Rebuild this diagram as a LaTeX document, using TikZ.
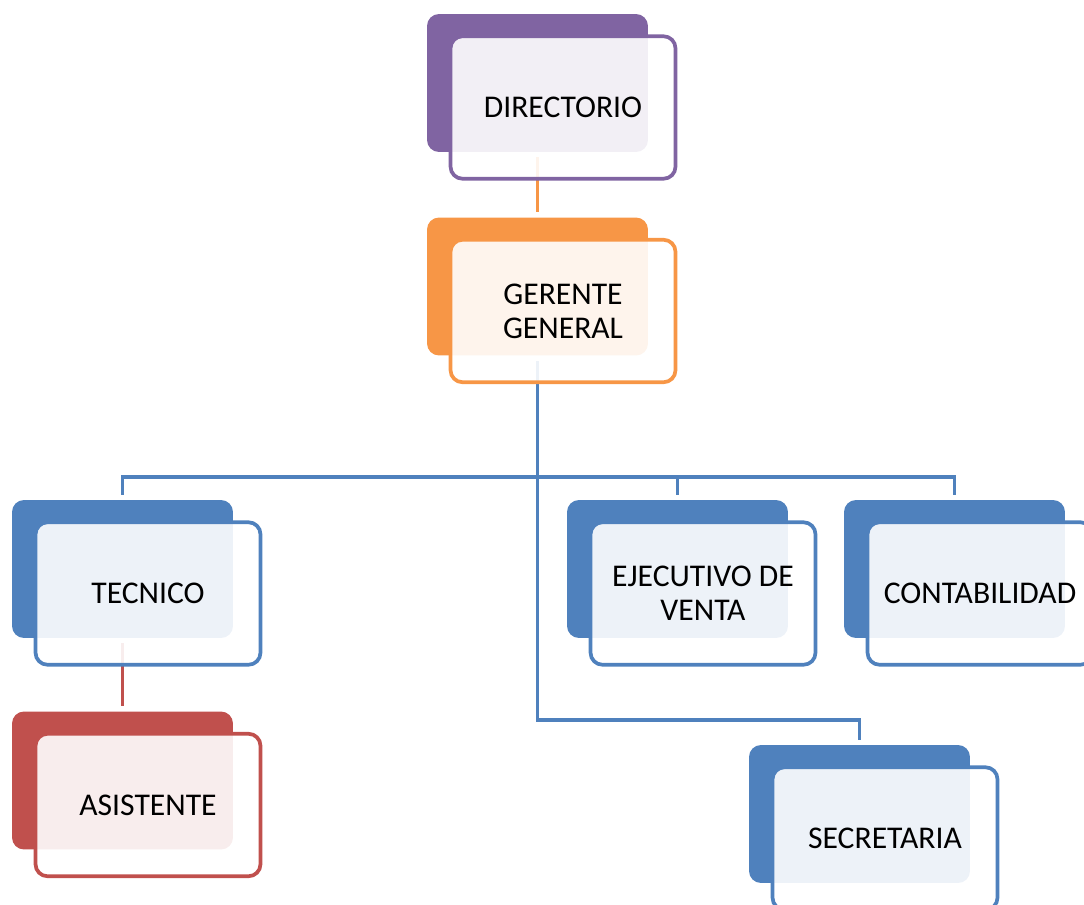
\documentclass[tikz,border=0pt]{standalone}
\usepackage{fontspec}
\setmainfont{Carlito}
\usetikzlibrary{positioning, calc}

\definecolor{purpleA}{HTML}{8064A2}
\definecolor{orangeA}{HTML}{F79646}
\definecolor{blueA}{HTML}{4F81BD}
\definecolor{redA}{HTML}{C0504D}

\tikzset{
  backbox/.style={rectangle, rounded corners=0.24cm, fill=#1,
    minimum width=4.42cm, minimum height=2.76cm},
  frontbox/.style={rectangle, rounded corners=0.24cm, draw=#1, line width=2.1pt,
    fill=white, fill opacity=0.9, text opacity=1, align=center,
    minimum width=4.5cm, minimum height=2.85cm,
    font=\fontsize{18}{19.5}\selectfont},
  link/.style={draw=#1, line width=2.1pt, shorten >=0.1cm}
}

\begin{document}
\begin{tikzpicture}[x=0.02cm, y=-0.02cm]
            \useasboundingbox (0,0) rectangle (1084,905);

            % back boxes
            \node[backbox=purpleA] (dirB) at (537.5, 83) {};
            \node[backbox=orangeA] (gerB) at (537.5, 286.5) {};
            \node[backbox=blueA] (tecB) at (122.5, 569) {};
            \node[backbox=redA] (asiB) at (122.5, 780.5) {};
            \node[backbox=blueA] (ejeB) at (677.5, 569) {};
            \node[backbox=blueA] (conB) at (954.5, 569) {};
            \node[backbox=blueA] (secB) at (859.5, 814) {};

            \coordinate (bus) at (537.5, 477);
            \coordinate (bend) at (537.5, 720);

            % connectors
            \draw[link=orangeA, shorten <=0.1cm] (dirB) -- (gerB);
            \draw[link=blueA, shorten <=0.1cm] (gerB) -- (bend) -| (secB);
            \draw[link=blueA] (bus) -| (tecB);
            \draw[link=blueA] (bus) -| (ejeB);
            \draw[link=blueA] (bus) -| (conB);
            \draw[link=redA, shorten <=0.1cm] (tecB) -- (asiB);

            % front boxes
            \node[frontbox=purpleA] (dir) at ($(dirB)+(25.5,24.5)$) {DIRECTORIO};
            \node[frontbox=orangeA] (ger) at ($(gerB)+(25.5,24.5)$) {GERENTE\\GENERAL};
            \node[frontbox=blueA] (tec) at ($(tecB)+(25.5,24.5)$) {TECNICO};
            \node[frontbox=redA] (asi) at ($(asiB)+(25.5,24.5)$) {ASISTENTE};
            \node[frontbox=blueA] (eje) at ($(ejeB)+(25.5,24.5)$) {EJECUTIVO DE\\VENTA};
            \node[frontbox=blueA] (con) at ($(conB)+(25.5,24.5)$) {CONTABILIDAD};
            \node[frontbox=blueA] (sec) at ($(secB)+(25.5,24.5)$) {SECRETARIA};
        \end{tikzpicture}
\end{document}
